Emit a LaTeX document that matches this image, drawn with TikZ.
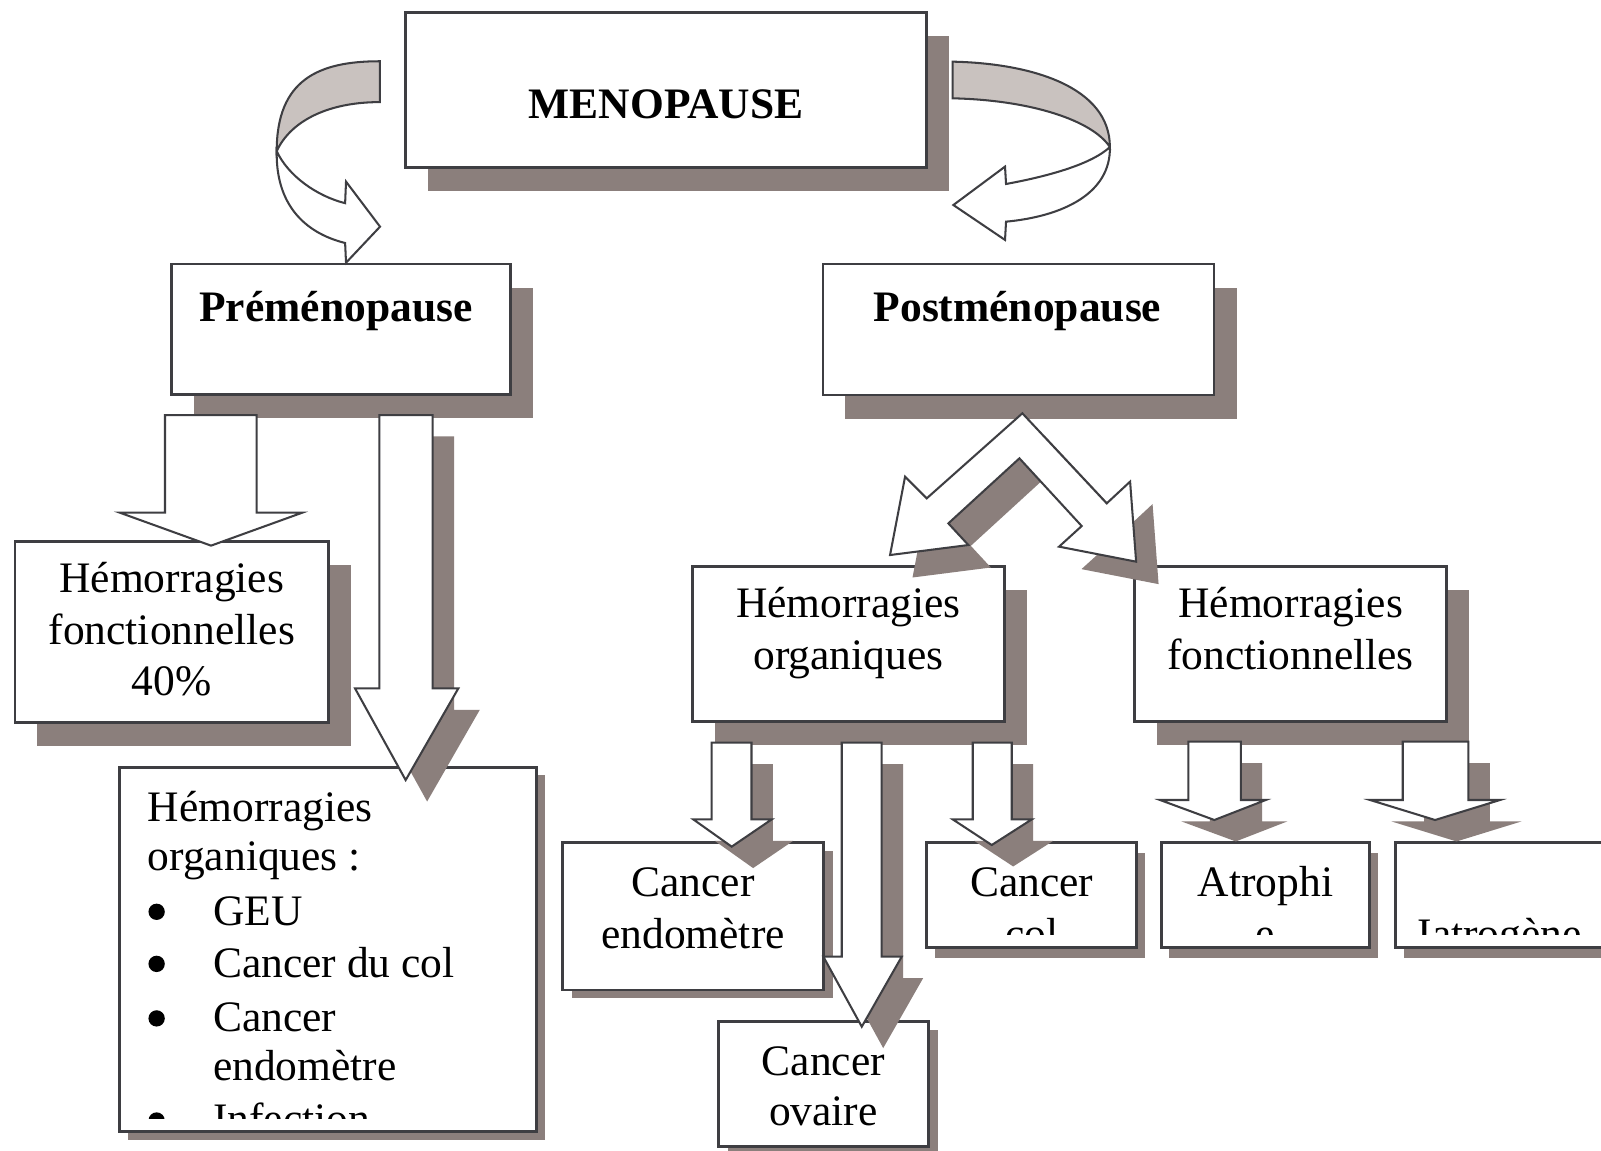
\documentclass[tikz,border=0pt]{standalone}
\usepackage{fontspec}
\setmainfont{Liberation Serif}
\usetikzlibrary{fit,shadows}
\definecolor{shadc}{RGB}{139,127,124}
\definecolor{bordc}{RGB}{62,62,66}
\definecolor{curvg}{RGB}{201,194,191}
% down block arrow: #1 shaft left, #2 shaft right, #3 top, #4 wing y, #5 wing left, #6 wing right, #7 tip x, #8 tip y, #9 style
\newcommand{\dblk}[9]{\draw[#9] (#1,#3) -- (#2,#3) -- (#2,#4) -- (#6,#4) -- (#7,#8) -- (#5,#4) -- (#1,#4) -- cycle;}
\begin{document}
\begin{tikzpicture}[x=0.5pt,y=-0.5pt,
  box/.style={draw=bordc,line width=1.4pt,fill=white,inner sep=0pt},
  shbig/.style={drop shadow={shadow xshift=11pt,shadow yshift=-11.5pt,fill=shadc,opacity=1}},
  shbb/.style={drop shadow={shadow xshift=4pt,shadow yshift=-4pt,fill=shadc,opacity=1}},
  shce/.style={drop shadow={shadow xshift=4.5pt,shadow yshift=-3.8pt,fill=shadc,opacity=1}},
  shsm/.style={drop shadow={shadow xshift=4pt,shadow yshift=-5pt,fill=shadc,opacity=1}},
  txt/.style={anchor=base,inner sep=0pt,font=\fontsize{21.3}{25}\selectfont},
  ltxt/.style={txt,anchor=base west},
  btxt/.style={anchor=base,inner sep=0pt,font=\fontsize{21.3}{25}\selectfont\bfseries},
  arr/.style={draw=bordc,line width=1pt,fill=white,line join=miter},
  arrsh/.style={fill=shadc,draw=none},
  cgrey/.style={draw=bordc,line width=1pt,fill=curvg},
  cwhite/.style={draw=bordc,line width=1pt,fill=white,line join=miter},
  bul/.style={circle,fill=black,inner sep=0pt,minimum size=8pt}]
\useasboundingbox (0,0) rectangle (1568,1127);
\fill[white] (0,0) rectangle (1568,1127);

% ---------- boxes ----------
\node[box,shbig,fit={(397,12)(907,164)}] (meno) {};
\node[box,shbig,fit={(168,258.6)(500,386.5)}] (pre) {};
\node[box,shbig,fit={(806,258.6)(1189,386.9)}] (post) {};
\node[box,shbig,fit={(14.7,530.5)(321.6,707.8)}] (hfl) {};
\node[box,shbb,fit={(117,751.5)(525.6,1108.4)}] (hob) {};
\node[box,shbig,fit={(678,555)(984,707)}] (hom) {};
\node[box,shbig,fit={(1111,555)(1417,707)}] (hfr) {};
\node[box,shce,fit={(551,825.4)(806.4,969.6)}] (ce) {};
\node[box,shce,fit={(703.6,1000.7)(909.2,1123)}] (co) {};
\node[box,shsm,fit={(907.7,825.3)(1113,927.8)}] (cc) {};
\node[box,shsm,fit={(1137.3,825.3)(1341.4,927.8)}] (at) {};
\node[box,shsm,fit={(1366.8,825.3)(1571,927.8)}] (ia) {};

% ---------- texts ----------
\node[btxt] (tmeno) at (652.5,116) {MENOPAUSE};
\node[btxt] (tpre) at (329,315) {Préménopause};
\node[btxt] (tpost) at (996.5,315) {Postménopause};

\node[txt] (hfl1) at (168.2,580.5) {Hémorragies};
\node[txt] (hfl2) at (168.2,631) {fonctionnelles};
\node[txt] (hfl3) at (168.2,681) {40\%};

\node[txt] (hom1) at (831,605) {Hémorragies};
\node[txt] (hom2) at (831,656) {organiques};
\node[txt] (hfr1) at (1264,605) {Hémorragies};
\node[txt] (hfr2) at (1264,656) {fonctionnelles};

\node[ltxt] (hob1) at (144.3,804.1) {Hémorragies};
\node[ltxt] (hob2) at (144.3,852.1) {organiques :};
\node[bul] (bu1) at (153.4,893) {};
\node[ltxt] (hob3) at (208.3,906) {GEU};
\node[bul] (bu2) at (153.4,944) {};
\node[ltxt] (hob4) at (208.3,957.2) {Cancer du col};
\node[bul] (bu3) at (153.4,997.4) {};
\node[ltxt] (hob5) at (208.3,1010.4) {Cancer};
\node[ltxt] (hob6) at (208.3,1058.4) {endomètre};
\begin{scope}
  \clip (117,751.5) rectangle (525.6,1095.3);
  \node[bul] (bu4) at (153.4,1097.4) {};
  \node[ltxt] (hob7) at (208.3,1110.4) {Infection};
\end{scope}

\node[txt] (ce1) at (678.7,878.2) {Cancer};
\node[txt] (ce2) at (678.7,928.8) {endomètre};
\node[txt] (co1) at (806.4,1052.9) {Cancer};
\node[txt] (co2) at (806.4,1101.9) {ovaire};

\node[txt] (cc1) at (1010.4,878.2) {Cancer};
\node[txt] (at1) at (1239.4,878.2) {Atrophi};
\begin{scope}
  \clip (900,825.3) rectangle (1568,915.5);
  \node[txt] (cc2) at (1010.4,928.5) {col};
  \node[txt] (at2) at (1239.4,928.5) {e};
  \node[txt] (ia1) at (1468.8,928.5) {Iatrogène};
\end{scope}

% ---------- curved arrows ----------
\draw[cgrey] (372,60) .. controls (312,60) and (271,78) .. (271,148)
  .. controls (285,118) and (322,100) .. (372,100) -- cycle;
\draw[cwhite] (271,148) .. controls (270,200) and (298,228) .. (338,238)
  -- (338.9,257.3) -- (372.2,222) -- (338.9,177.9) -- (338,199)
  .. controls (310,192) and (282,172) .. (271,148) -- cycle;

\draw[cgrey] (933,60.4) .. controls (1010,62) and (1087,85) .. (1087,144)
  .. controls (1070,118) and (1010,98) .. (933,96.3) -- cycle;
\draw[cwhite] (1087,144) .. controls (1088,190) and (1040,212) .. (985.3,217.1)
  -- (984.3,235) -- (933.7,200.8) -- (984.3,163.2) -- (985.3,180.2)
  .. controls (1030,172) and (1070,160) .. (1087,144) -- cycle;

% ---------- left block arrows ----------
\dblk{161.6}{251.4}{406.5}{502.1}{117.3}{296.1}{206.7}{534.4}{arr}
\begin{scope}[shift={(21,21)}]
\dblk{371.5}{423.8}{406.5}{674.2}{347.7}{448.9}{397.3}{764}{arrsh}
\end{scope}
\dblk{371.5}{423.8}{406.5}{674.2}{347.7}{448.9}{397.3}{764}{arr}

% ---------- double arrow ----------
\begin{scope}[shift={(22,22)}]
\fill[shadc] (1001.3,404.8) -- (1083.9,493) -- (1106.8,471.7) -- (1112.7,550.1) -- (1037.2,535.4) -- (1059.4,515.2) -- (998.4,448.9) -- (928.8,512.6) -- (948.4,533.8) -- (871.7,543.6) -- (886.4,466.9) -- (907.6,488.1) -- cycle;
\end{scope}
\draw[arr] (1001.3,404.8) -- (1083.9,493) -- (1106.8,471.7) -- (1112.7,550.1) -- (1037.2,535.4) -- (1059.4,515.2) -- (998.4,448.9) -- (928.8,512.6) -- (948.4,533.8) -- (871.7,543.6) -- (886.4,466.9) -- (907.6,488.1) -- cycle;

% ---------- lower block arrows ----------
\begin{scope}[shift={(21,21)}]
\dblk{697}{736}{727.4}{802.5}{679}{755.8}{716.6}{829.2}{arrsh}
\dblk{824.4}{863.5}{727.4}{937}{806.4}{883.1}{844}{1005.5}{arrsh}
\dblk{952.7}{990.9}{727.4}{802.5}{933.1}{1010.5}{971.3}{827.6}{arrsh}
\dblk{1163.9}{1215.2}{726.4}{783.5}{1136.1}{1239.7}{1189.3}{803.1}{arrsh}
\dblk{1373.8}{1438.1}{726.4}{783.5}{1341.8}{1469.1}{1405.5}{803.1}{arrsh}
\end{scope}
\dblk{697}{736}{727.4}{802.5}{679}{755.8}{716.6}{829.2}{arr}
\dblk{824.4}{863.5}{727.4}{937}{806.4}{883.1}{844}{1005.5}{arr}
\dblk{952.7}{990.9}{727.4}{802.5}{933.1}{1010.5}{971.3}{827.6}{arr}
\dblk{1163.9}{1215.2}{726.4}{783.5}{1136.1}{1239.7}{1189.3}{803.1}{arr}
\dblk{1373.8}{1438.1}{726.4}{783.5}{1341.8}{1469.1}{1405.5}{803.1}{arr}
\end{tikzpicture}
\end{document}
